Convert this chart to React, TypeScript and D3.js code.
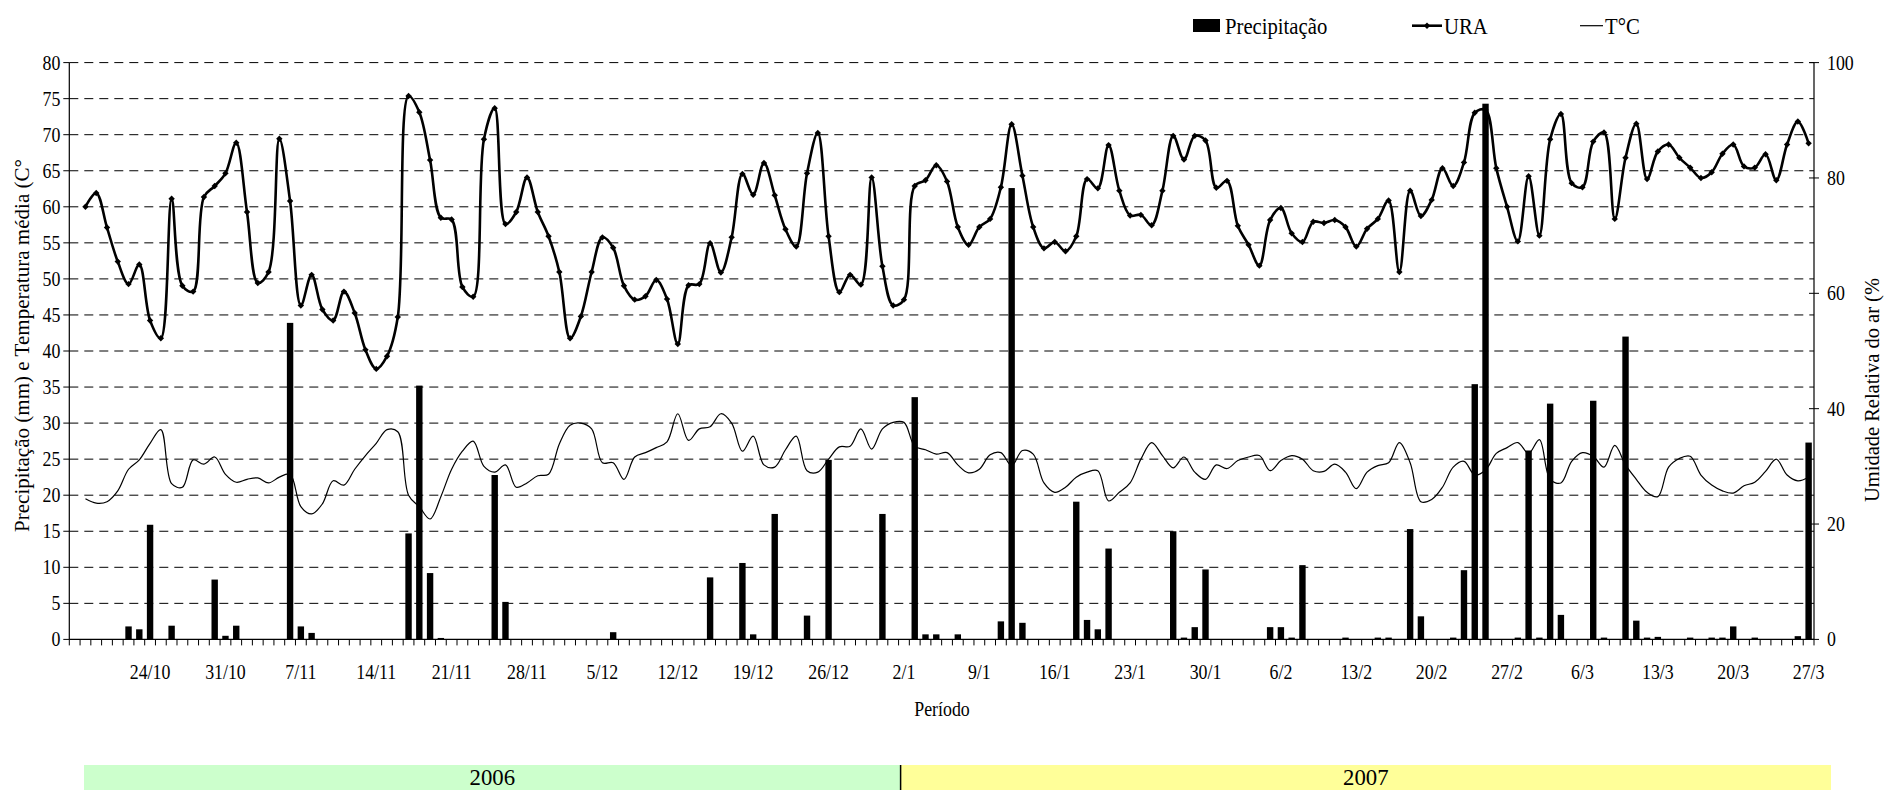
import React from "react";
import * as d3 from "d3";

// Daily series, 17/10/2006 .. 27/3/2007
const firstDay = new Date(2006, 9, 17);
const lastDay = new Date(2007, 2, 27);
const days = d3.timeDay.range(firstDay, d3.timeDay.offset(lastDay, 1));

// Precipitação diária (mm)
const precipitacao = [
  0, 0, 0, 0, 0, 1.8, 1.4, 15.9, 0, 1.9,
  0, 0, 0, 8.3, 0.5, 1.9, 0, 0, 0, 0,
  43.9, 1.8, 0.9, 0, 0, 0, 0, 0, 0, 0,
  0, 14.7, 35.2, 9.2, 0.2, 0, 0, 0, 0, 22.8,
  5.2, 0, 0, 0, 0, 0, 0, 0, 0, 0,
  1.0, 0, 0, 0, 0, 0, 0, 0, 0, 8.6,
  0, 0, 10.6, 0.7, 0, 17.4, 0, 0, 3.3, 0,
  24.9, 0, 0, 0, 0, 17.4, 0, 0, 33.6, 0.7,
  0.7, 0, 0.7, 0, 0, 0, 2.5, 62.6, 2.3, 0,
  0, 0, 0, 19.1, 2.7, 1.4, 12.6, 0, 0, 0,
  0, 0, 15.0, 0.25, 1.7, 9.7, 0, 0, 0, 0,
  0, 1.7, 1.7, 0.25, 10.3, 0, 0, 0, 0.25, 0,
  0, 0.25, 0.25, 0, 15.3, 3.2, 0, 0, 0.25, 9.6,
  35.4, 74.3, 0, 0, 0.25, 26.2, 0.25, 32.7, 3.4, 0,
  0, 33.1, 0.25, 0, 42.0, 2.6, 0.25, 0.35, 0, 0,
  0.25, 0, 0.25, 0.25, 1.8, 0, 0.25, 0, 0, 0,
  0.45, 27.3,
];

// Umidade relativa do ar (%)
const ura: (number | null)[] = [
  null, 75.0, 77.4, 71.4, 65.5, 61.6, 65.0, 55.3, 52.2, 76.4,
  61.3, 60.3, 76.7, 78.6, 80.8, 86.1, 74.1, 61.8, 63.7, 86.8,
  76.0, 57.9, 63.2, 57.2, 55.3, 60.3, 56.6, 50.2, 46.9, 49.1,
  55.9, 94.2, 91.4, 83.1, 73.1, 72.8, 61.1, 59.4, 86.7, 92.1,
  72.0, 74.1, 80.1, 74.1, 69.9, 63.7, 52.2, 56.0, 63.7, 69.7,
  67.9, 61.3, 58.9, 59.5, 62.3, 59.0, 51.2, 61.4, 61.6, 68.7,
  63.6, 69.7, 80.7, 77.1, 82.6, 77.0, 71.1, 68.1, 80.8, 87.8,
  69.9, 60.2, 63.2, 61.5, 80.1, 64.7, 57.9, 58.9, 78.6, 79.6,
  82.2, 79.4, 71.5, 68.4, 71.5, 72.9, 78.4, 89.3, 80.4, 71.5,
  67.8, 68.9, 67.3, 69.9, 79.8, 78.2, 85.7, 77.8, 73.5, 73.6,
  71.8, 77.8, 87.3, 83.2, 87.3, 86.5, 78.3, 79.5, 71.7, 68.4,
  64.8, 72.7, 74.8, 70.4, 68.9, 72.4, 72.2, 72.7, 71.5, 68.1,
  71.2, 72.9, 76.1, 63.7, 77.8, 73.4, 76.2, 81.7, 78.6, 82.7,
  91.3, 91.8, 81.7, 75.0, 69.0, 80.3, 70.0, 86.7, 91.1, 79.1,
  78.4, 86.3, 87.9, 72.9, 83.5, 89.4, 79.8, 84.6, 85.8, 83.5,
  81.8, 80.0, 81.0, 84.2, 85.8, 82.0, 81.8, 84.1, 79.6, 85.8,
  89.8, 86.0,
];

// Temperatura média (°C)
const temperatura: (number | null)[] = [
  null, 19.5, 18.9, 19.1, 20.6, 23.6, 24.9, 27.2, 29.1, 21.6,
  21.1, 24.9, 24.3, 25.3, 22.9, 21.8, 22.2, 22.4, 21.7, 22.5,
  22.9, 18.4, 17.4, 18.8, 22.0, 21.4, 23.6, 25.5, 27.2, 29.1,
  28.8, 20.0, 18.4, 16.7, 19.8, 23.6, 26.1, 27.5, 24.0, 23.2,
  24.2, 21.1, 21.7, 22.7, 22.9, 27.1, 29.7, 30.0, 29.2, 24.5,
  24.5, 22.2, 25.3, 25.9, 26.6, 27.4, 31.3, 27.6, 29.2, 29.5,
  31.3, 30.0, 26.1, 28.2, 24.2, 23.9, 26.3, 28.2, 23.4, 23.2,
  25.0, 26.7, 26.8, 29.2, 26.4, 29.2, 30.1, 30.1, 26.8, 26.3,
  25.7, 25.9, 24.2, 23.1, 23.6, 25.6, 25.9, 24.1, 26.2, 25.7,
  21.7, 20.4, 21.1, 22.5, 23.2, 23.4, 19.2, 20.4, 21.7, 25.0,
  27.3, 25.5, 23.8, 25.3, 23.2, 22.2, 24.2, 23.7, 24.8, 25.3,
  25.5, 23.4, 24.8, 25.5, 25.0, 23.4, 23.3, 24.3, 23.2, 20.9,
  23.2, 24.1, 24.5, 27.3, 24.5, 19.1, 19.4, 21.1, 23.9, 24.7,
  22.8, 23.5, 25.8, 26.6, 27.3, 25.8, 27.7, 22.2, 21.7, 24.7,
  25.9, 25.4, 23.9, 26.9, 24.2, 22.2, 20.4, 19.8, 23.9, 25.1,
  25.4, 22.8, 21.4, 20.6, 20.3, 21.3, 21.8, 23.3, 25.0, 22.8,
  22.0, 22.5,
];

const xTickLabels = [
  "24/10", "31/10", "7/11", "14/11", "21/11", "28/11", "5/12", "12/12",
  "19/12", "26/12", "2/1", "9/1", "16/1", "23/1", "30/1", "6/2", "13/2",
  "20/2", "27/2", "6/3", "13/3", "20/3", "27/3",
];
const leftTicks = d3.range(0, 81, 5);
const rightTicks = [0, 20, 40, 60, 80, 100];
const years = ["2006", "2007"];

const W = 1888;
const H = 790;
const M = { left: 69.3, right: 1814, top: 62.6, bottom: 639.4 };
const FONT = "Liberation Serif";

const fmt = d3.timeFormat("%-d/%-m");

function SText(props: {
  x: number;
  y: number;
  size: number;
  sx?: number;
  anchor?: string;
  rotate?: number;
  children: React.ReactNode;
  textLength?: number;
}) {
  const { x, y, size, sx = 0.82, anchor = "start", rotate, children, textLength } = props;
  const tf = `translate(${x},${y})${rotate ? ` rotate(${rotate})` : ""} scale(${sx},1)`;
  return (
    <text
      transform={tf}
      fontFamily={FONT}
      fontSize={size}
      textAnchor={anchor}
      fill="#000"
      textLength={textLength}
      lengthAdjust={textLength ? "spacingAndGlyphs" : undefined}
    >
      {children}
    </text>
  );
}

export default function App() {
  const idx = days.map((_, i) => i);
  const x = d3.scaleBand<number>().domain(idx).range([M.left, M.right]).padding(0);
  const bw = x.bandwidth();
  const cx = (i: number) => (x(i) as number) + bw / 2;
  const yL = d3.scaleLinear().domain([0, 80]).range([M.bottom, M.top]);
  const yR = d3.scaleLinear().domain([0, 100]).range([M.bottom, M.top]);

  const curve = d3.curveCatmullRom.alpha(0.5);
  const uraLine = d3
    .line<number | null>()
    .defined((v) => v != null)
    .x((_, i) => cx(i))
    .y((v) => yR(v as number))
    .curve(curve);
  const tLine = d3
    .line<number | null>()
    .defined((v) => v != null)
    .x((_, i) => cx(i))
    .y((v) => yL(v as number))
    .curve(curve);

  const barW = 6.4;
  const diamond = "M0,-3.2L3.2,0L0,3.2L-3.2,0Z";

  // year band
  const band = { x0: 84, mid: 900.6, x1: 1831, y0: 765, y1: 792 };

  return (
    <svg
      width={W}
      height={H}
      style={{ position: "absolute", left: 0, top: 0, background: "#fff" }}
    >
      <rect x={0} y={0} width={W} height={H} fill="#fff" />

      {/* dashed gridlines */}
      {leftTicks
        .filter((t) => t > 0)
        .map((t) => (
          <line
            key={"g" + t}
            x1={M.left}
            x2={M.right}
            y1={yL(t)}
            y2={yL(t)}
            stroke="#000"
            strokeWidth={1}
            strokeDasharray="9,6"
          />
        ))}

      {/* precipitation bars */}
      {precipitacao.map((v, i) =>
        v > 0 ? (
          <rect
            key={"b" + i}
            x={cx(i) - barW / 2}
            y={yL(v)}
            width={barW}
            height={yL(0) - yL(v)}
            fill="#000"
          />
        ) : null
      )}

      {/* temperature */}
      <path d={tLine(temperatura) || ""} fill="none" stroke="#000" strokeWidth={1.2} />

      {/* relative humidity */}
      <path d={uraLine(ura) || ""} fill="none" stroke="#000" strokeWidth={2.6} strokeLinejoin="round" />
      {ura.map((v, i) =>
        v == null ? null : (
          <path key={"m" + i} d={diamond} transform={`translate(${cx(i)},${yR(v)})`} fill="#000" />
        )
      )}

      {/* axes */}
      <line x1={M.left} x2={M.left} y1={M.top} y2={M.bottom} stroke="#000" strokeWidth={1.2} />
      <line x1={M.right} x2={M.right} y1={M.top} y2={M.bottom} stroke="#000" strokeWidth={1.2} />
      <line x1={M.left} x2={M.right} y1={M.bottom} y2={M.bottom} stroke="#000" strokeWidth={1.2} />

      {leftTicks.map((t) => (
        <g key={"lt" + t}>
          <line x1={M.left - 6} x2={M.left} y1={yL(t)} y2={yL(t)} stroke="#000" strokeWidth={1} />
          <SText x={M.left - 9} y={yL(t) + 7} size={21} anchor="end" sx={0.85}>
            {t}
          </SText>
        </g>
      ))}
      {rightTicks.map((t) => (
        <g key={"rt" + t}>
          <line x1={M.right - 5} x2={M.right + 5} y1={yR(t)} y2={yR(t)} stroke="#000" strokeWidth={1} />
          <SText x={M.right + 13} y={yR(t) + 7} size={21} sx={0.85}>
            {t}
          </SText>
        </g>
      ))}

      {/* daily ticks */}
      {d3.range(days.length + 1).map((k) => {
        const xx = M.left + k * bw;
        return <line key={"xt" + k} x1={xx} x2={xx} y1={M.bottom} y2={M.bottom + 6} stroke="#000" strokeWidth={1} />;
      })}
      {days.map((d, i) =>
        xTickLabels.includes(fmt(d)) ? (
          <SText key={"xl" + i} x={cx(i)} y={679} size={21} anchor="middle" sx={0.85}>
            {fmt(d)}
          </SText>
        ) : null
      )}

      {/* axis titles */}
      <SText x={942} y={716} size={21} anchor="middle" sx={0.85}>
        Período
      </SText>
      <SText x={29} y={532} size={22} rotate={-90} sx={1} textLength={373}>
        Precipitação (mm) e Temperatura média (C°
      </SText>
      <SText x={1879} y={502} size={22} rotate={-90} sx={1} textLength={224}>
        Umidade Relativa do ar (%
      </SText>

      {/* legend */}
      <rect x={1193} y={19} width={27} height={13} fill="#000" />
      <SText x={1225} y={34} size={23} sx={0.9}>
        Precipitação
      </SText>
      <line x1={1412} x2={1442} y1={25.7} y2={25.7} stroke="#000" strokeWidth={2.6} />
      <path d={diamond} transform="translate(1427,25.7)" fill="#000" />
      <SText x={1444} y={34} size={23} sx={0.9}>
        URA
      </SText>
      <line x1={1580} x2={1603} y1={25.7} y2={25.7} stroke="#000" strokeWidth={1.2} />
      <SText x={1605} y={34} size={23} sx={0.9}>
        T°C
      </SText>

      {/* year band */}
      <rect x={band.x0} y={band.y0} width={band.mid - band.x0} height={band.y1 - band.y0} fill="#ccffcc" />
      <rect x={band.mid} y={band.y0} width={band.x1 - band.mid} height={band.y1 - band.y0} fill="#ffff99" />
      <line x1={band.mid} x2={band.mid} y1={band.y0} y2={band.y1} stroke="#000" strokeWidth={1.5} />
      <SText x={(band.x0 + band.mid) / 2} y={785} size={24} anchor="middle" sx={0.95}>
        {years[0]}
      </SText>
      <SText x={(band.mid + band.x1) / 2} y={785} size={24} anchor="middle" sx={0.95}>
        {years[1]}
      </SText>
    </svg>
  );
}
